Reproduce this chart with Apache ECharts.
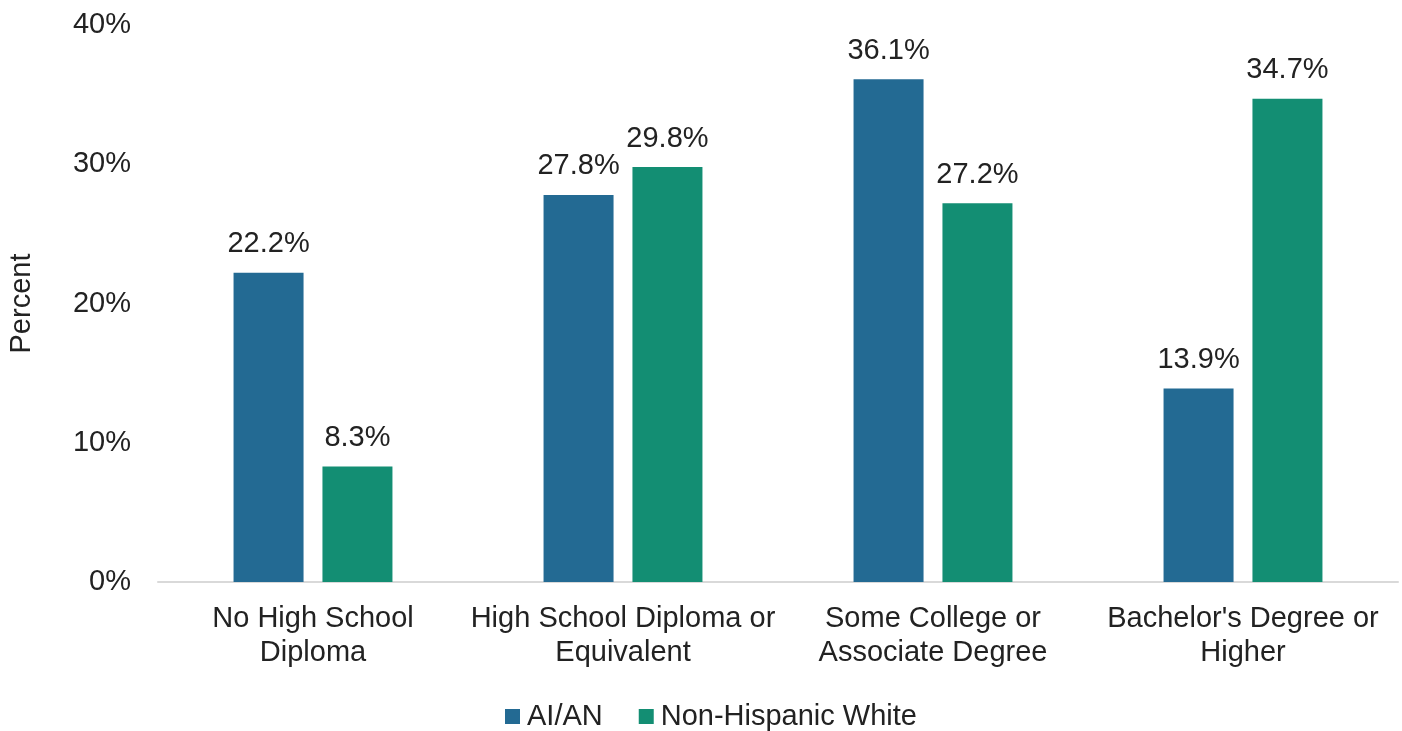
<!DOCTYPE html>
<html><head><meta charset="utf-8">
<script src="https://cdn.jsdelivr.net/npm/echarts@6/dist/echarts.min.js"></script>
<style>html,body{margin:0;padding:0;background:#fff}#c{width:1402px;height:731px}</style>
</head><body><div id="c"></div>
<script>
const categories = ["No High School\nDiploma", "High School Diploma or\nEquivalent", "Some College or\nAssociate Degree", "Bachelor's Degree or\nHigher"];
const seriesNames = ["AI/AN", "Non-Hispanic White"];
const aian = [22.2, 27.8, 36.1, 13.9];
const nhw = [8.3, 29.8, 27.2, 34.7];
const colors = ["#236A93", "#138E73"];
const font = "Liberation Sans, Arial, sans-serif";
const FS = 29;
const chart = echarts.init(document.getElementById('c'));
const lbl = {show: true, position: 'top', distance: 14, color: '#222', fontSize: FS, fontFamily: font, formatter: p => p.value.toFixed(1) + '%'};
chart.setOption({
  animation: false,
  textStyle: {fontFamily: font},
  grid: {left: 158, right: 4, top: 25, bottom: 149, containLabel: false, outerBoundsMode: 'none'},
  legend: {top: 697, left: 500, itemWidth: 15, itemHeight: 15, itemGap: 36,
    icon: 'rect', textStyle: {fontSize: FS, color: '#222', fontFamily: font, padding: [0,0,0,2]},
    data: seriesNames},
  xAxis: {type: 'category', data: categories,
    axisLine: {lineStyle: {color: '#d9d9d9', width: 2}}, axisTick: {show: false},
    axisLabel: {fontSize: FS, color: '#222', fontFamily: font, margin: 20, lineHeight: 34, interval: 0}},
  yAxis: {type: 'value', min: 0, max: 40, interval: 10,
    name: 'Percent', nameLocation: 'middle', nameGap: 122, nameRotate: 90,
    nameTextStyle: {fontSize: FS, color: '#222', fontFamily: font},
    axisLabel: {formatter: '{value}%', fontSize: FS, color: '#222', fontFamily: font, margin: 27},
    splitLine: {show: false}, axisLine: {show: false}, axisTick: {show: false}},
  series: [
    {name: seriesNames[0], type: 'bar', data: aian, barWidth: 70, barGap: '27%', itemStyle: {color: colors[0]}, label: lbl},
    {name: seriesNames[1], type: 'bar', data: nhw, barWidth: 70, barGap: '27%', itemStyle: {color: colors[1]}, label: lbl}
  ]
});
</script></body></html>
